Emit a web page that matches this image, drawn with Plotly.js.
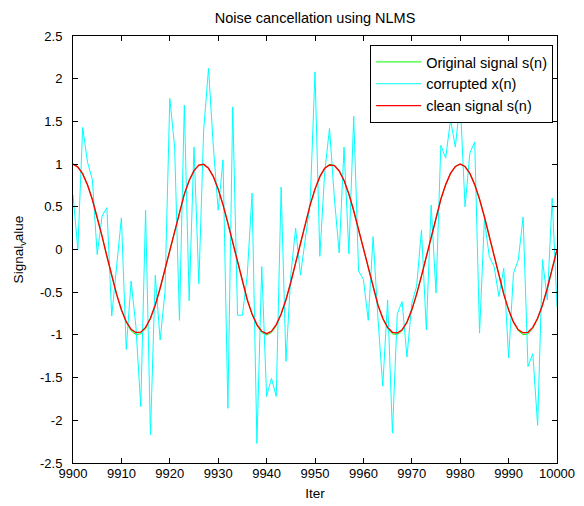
<!DOCTYPE html>
<html>
<head>
<meta charset="utf-8">
<script src="https://cdn.plot.ly/plotly-3.0.1.min.js"></script>
<style>html,body{margin:0;padding:0;background:#fff;}#chart{width:584px;height:506px;}</style>
</head>
<body>
<div id="chart"></div>
<script>
// iteration index of first sample, step 1
var iterStart = 9900;

// Original signal s(n)
var originalSignal = [
 1, 0.972, 0.891, 0.760, 0.588, 0.383, 0.156, -0.079, -0.309, -0.523, -0.707, -0.853, -0.951, -0.997, -0.988, -0.924, -0.809, -0.649, -0.454, -0.233, 0,
 0.233, 0.454, 0.649, 0.809, 0.924, 0.988, 0.997, 0.951, 0.853, 0.707, 0.523, 0.309, 0.079, -0.156, -0.383, -0.588, -0.760, -0.891, -0.972, -1,
 -0.972, -0.891, -0.760, -0.588, -0.383, -0.156, 0.079, 0.309, 0.523, 0.707, 0.853, 0.951, 0.997, 0.988, 0.924, 0.809, 0.649, 0.454, 0.233, 0,
 -0.233, -0.454, -0.649, -0.809, -0.924, -0.988, -0.997, -0.951, -0.853, -0.707, -0.523, -0.309, -0.079, 0.156, 0.383, 0.588, 0.760, 0.891, 0.972, 1,
 0.972, 0.891, 0.760, 0.588, 0.383, 0.156, -0.079, -0.309, -0.523, -0.707, -0.853, -0.951, -0.997, -0.988, -0.924, -0.809, -0.649, -0.454, -0.233, 0
];

// corrupted x(n)
var corruptedSignal = [
 0.64, 0.0, 1.43, 1.02, 0.82, -0.06, 0.39, 0.49, -0.78, -0.2, 0.37, -1.17, -0.37, -0.9, -1.84, 0.46, -2.17, -0.3, -1.06, -0.5, 1.77,
 1.2, -0.83, 1.69, -0.6, 1.2, -0.4, 1.4, 2.12, 1.2, 0.46, 1.05, -1.86, 1.67, -0.77, -0.77, -0.3, 0.66, -2.27, -0.2, -1.72,
 -1.51, -1.72, 0.73, -1.31, -0.3, 0.25, -0.3, 0.1, 0.55, 2.08, -0.08, 0.9, 1.42, 0.6, -0.04, 1.2, -0.05, 1.56, -0.25, -0.35,
 -0.83, 0.15, -0.8, -1.6, -0.59, -2.15, -0.75, -0.61, -1.26, -0.63, -0.43, 0.23, -0.94, 0.52, -0.51, 1.22, 1.07, 1.52, 1.2, 1.75,
 0.5, 1.13, 1.26, -0.98, 0.35, -0.08, -0.2, -0.55, -0.22, -1.27, -0.28, -0.12, 0.38, -1.37, -1.22, -2.06, -0.12, -0.59, 0.6, -0.67
];

// clean signal s(n) (NLMS output)
var cleanSignal = [
 1, 0.965, 0.885, 0.755, 0.585, 0.383, 0.156, -0.079, -0.309, -0.523, -0.705, -0.845, -0.935, -0.972, -0.968, -0.912, -0.805, -0.649, -0.454, -0.233, 0,
 0.233, 0.454, 0.649, 0.809, 0.924, 0.988, 0.997, 0.951, 0.853, 0.707, 0.523, 0.309, 0.079, -0.156, -0.383, -0.588, -0.755, -0.880, -0.958, -0.985,
 -0.958, -0.880, -0.755, -0.588, -0.383, -0.156, 0.079, 0.309, 0.523, 0.707, 0.853, 0.951, 0.990, 0.982, 0.920, 0.809, 0.649, 0.454, 0.233, 0,
 -0.233, -0.454, -0.649, -0.805, -0.912, -0.970, -0.978, -0.940, -0.850, -0.707, -0.523, -0.309, -0.079, 0.156, 0.383, 0.588, 0.760, 0.891, 0.972, 1,
 0.972, 0.891, 0.760, 0.588, 0.383, 0.156, -0.079, -0.309, -0.523, -0.707, -0.848, -0.940, -0.975, -0.970, -0.912, -0.805, -0.649, -0.454, -0.233, 0
];

var yTicks = [-2.5, -2, -1.5, -1, -0.5, 0, 0.5, 1, 1.5, 2, 2.5];
var yTickLabels = ['-2.5', '-2', '-1.5', '-1', '-0.5', '0', '0.5', '1', '1.5', '2', '2.5'];
var xTicks = [9900, 9910, 9920, 9930, 9940, 9950, 9960, 9970, 9980, 9990, 10000];

var fontFamily = 'Liberation Sans, Arial, sans-serif';

var traces = [
  {y: originalSignal, x0: iterStart, dx: 1, type: 'scatter', mode: 'lines',
   name: 'Original signal s(n)', line: {color: '#00ff00', width: 1}},
  {y: corruptedSignal, x0: iterStart, dx: 1, type: 'scatter', mode: 'lines',
   name: 'corrupted x(n)', line: {color: '#00ffff', width: 1}},
  {y: cleanSignal, x0: iterStart, dx: 1, type: 'scatter', mode: 'lines',
   name: 'clean signal s(n)', line: {color: '#ff0000', width: 1.4}}
];

var axisCommon = {
  showline: true, linecolor: '#000', linewidth: 1, mirror: 'ticks',
  ticks: 'inside', ticklen: 5, tickcolor: '#000', tickwidth: 1,
  showgrid: false, zeroline: false,
  tickfont: {family: fontFamily, size: 13, color: '#000'}
};

var layout = {
  width: 584, height: 506,
  margin: {l: 73, r: 27, t: 36, b: 43, pad: 0},
  paper_bgcolor: '#fff', plot_bgcolor: '#fff',
  font: {family: fontFamily, size: 13, color: '#000'},
  title: {text: 'Noise cancellation using NLMS', x: 0.5, xref: 'paper', xanchor: 'center',
          y: 1 - 18 / 506, yref: 'container', yanchor: 'middle',
          font: {family: fontFamily, size: 14.5, color: '#000'}},
  xaxis: Object.assign({}, axisCommon, {
    range: [9900, 10000], tickmode: 'array', tickvals: xTicks, ticktext: xTicks.map(String),
    ticklabelstandoff: -2,
    title: {text: 'Iter', standoff: 8, font: {family: fontFamily, size: 13.5, color: '#000'}}
  }),
  yaxis: Object.assign({}, axisCommon, {
    range: [-2.5, 2.5], tickmode: 'array', tickvals: yTicks, ticktext: yTickLabels,
    ticklabelstandoff: 7,
    title: {text: 'Signal<sub>v</sub>alue', standoff: 13, font: {family: fontFamily, size: 13.5, color: '#000'}}
  }),
  showlegend: true,
  legend: {x: 0.992, xanchor: 'right', y: 0.979, yanchor: 'top',
           bgcolor: '#fff', bordercolor: '#000', borderwidth: 1, itemwidth: 45,
           font: {family: fontFamily, size: 14.5, color: '#000'}, tracegroupgap: 0}
};

Plotly.newPlot('chart', traces, layout, {displayModeBar: false, staticPlot: true});
</script>
</body>
</html>
